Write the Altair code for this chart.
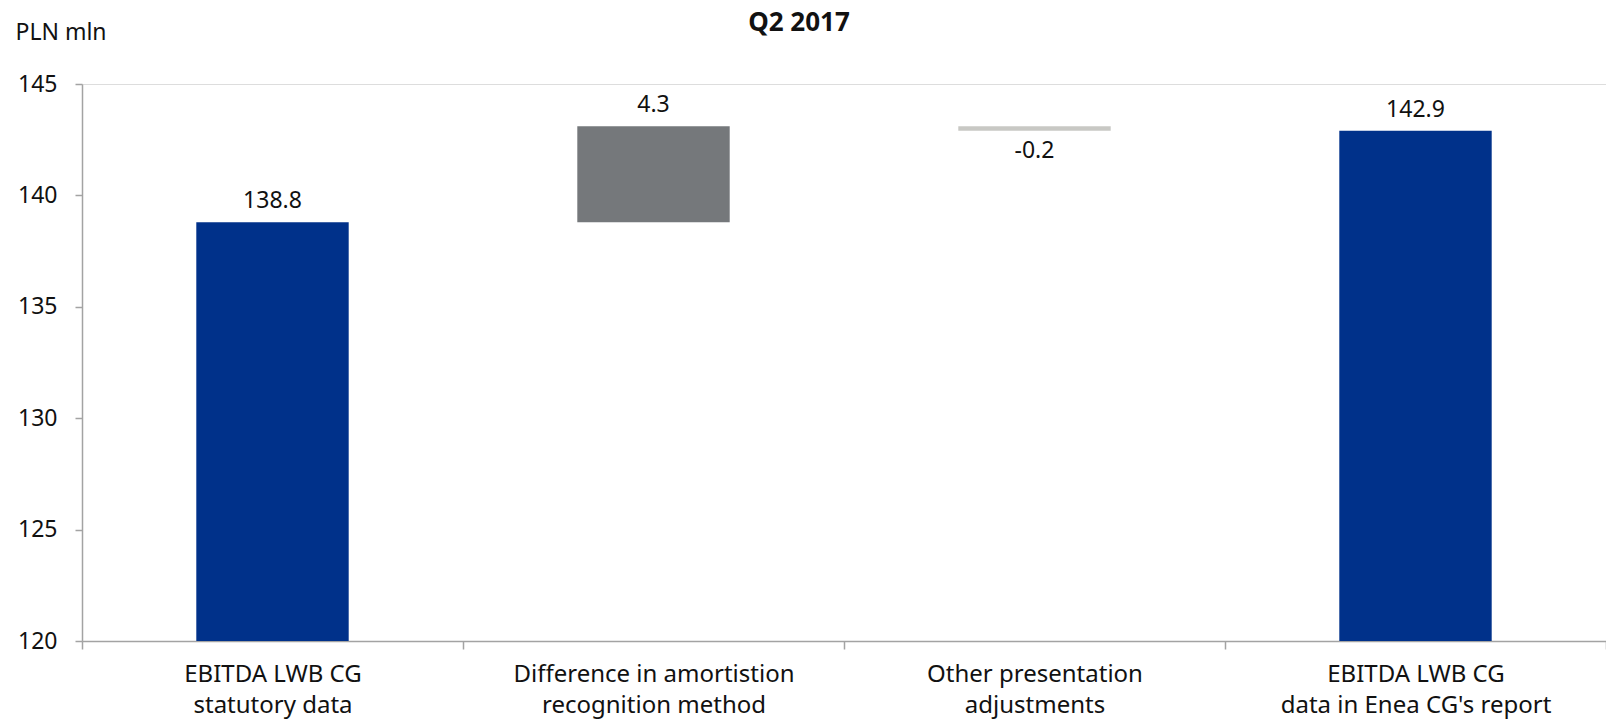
import altair as alt
import pandas as pd

categories = [
    "EBITDA LWB CG\nstatutory data",
    "Difference in amortistion\nrecognition method",
    "Other presentation\nadjustments",
    "EBITDA LWB CG\ndata in Enea CG's report",
]
values = [138.8, 4.3, -0.2, 142.9]
kinds = ["total", "delta", "delta", "total"]
colors = ["#00318A", "#75787B", "#C8C8C4", "#00318A"]
labels = ["138.8", "4.3", "-0.2", "142.9"]
y_ticks = [120, 125, 130, 135, 140, 145]

rows = []
running = 0.0
for cat, val, kind, col, lab in zip(categories, values, kinds, colors, labels):
    if kind == "total":
        start, end = 0.0, val
        running = val
    else:
        start, end = running, running + val
        running = end
    rows.append(dict(category=cat, value=val, start=start, end=end,
                     top=max(start, end), bottom=min(start, end),
                     color=col, label=lab))
df = pd.DataFrame(rows)

FONT = "Noto Sans"
TXT = "#111111"
AXIS = "#A3A3A3"

x_enc = alt.X(
    "category:N", sort=categories, title=None,
    scale=alt.Scale(paddingInner=0, paddingOuter=0),
    axis=alt.Axis(
        labelExpr="split(datum.label, '\\n')", labelAngle=0,
        labelFontSize=24, labelFont=FONT, labelColor=TXT,
        labelLineHeight=31, labelPadding=13, labelLimit=400,
        tickBand="extent", tickSize=8, tickColor=AXIS, domainColor=AXIS,
        domainWidth=1.5, tickWidth=1.5,
    ),
)
y_scale = alt.Scale(domain=[120, 145], nice=False, zero=False)

base = alt.Chart(df)

bars = base.mark_bar(width=alt.RelativeBandSize(0.4), clip=True).encode(
    x=x_enc,
    y=alt.Y(
        "start:Q", scale=y_scale,
        axis=alt.Axis(
            values=y_ticks, grid=False, title="PLN mln", titleAngle=0,
            titleAlign="left", titleBaseline="alphabetic", titleX=-67,
            titleY=-45, titleFont=FONT, titleFontSize=23,
            titleFontWeight="normal", titleColor=TXT,
            labelFont=FONT, labelFontSize=23, labelColor=TXT,
            labelPadding=18, tickSize=7, tickColor=AXIS, domainColor=AXIS,
            domainWidth=1.5, tickWidth=1.5,
        ),
    ),
    y2="end:Q",
    color=alt.Color("color:N", scale=None),
)

pos_labels = base.transform_filter("datum.value >= 0").mark_text(
    font=FONT, fontSize=23, color=TXT, baseline="alphabetic", dy=-14
).encode(x=alt.X("category:N", sort=categories), y=alt.Y("top:Q", scale=y_scale), text="label:N")

neg_labels = base.transform_filter("datum.value < 0").mark_text(
    font=FONT, fontSize=23, color=TXT, baseline="top", dy=9
).encode(x=alt.X("category:N", sort=categories), y=alt.Y("bottom:Q", scale=y_scale), text="label:N")

chart = alt.layer(bars, pos_labels, neg_labels).properties(
    width=1524, height=557,
    title=alt.TitleParams(
        text="Q2 2017", font=FONT, fontSize=26, fontWeight="bold",
        color=TXT, anchor="middle", dx=-45, offset=-15,
    ),
    autosize=alt.AutoSizeParams(type="none"),
    padding={"left": 82, "top": 84, "right": 0, "bottom": 81},
).configure_view(stroke=None).configure(background="white")

chart.save("out.html", embed_options={"renderer": "svg", "actions": False})
